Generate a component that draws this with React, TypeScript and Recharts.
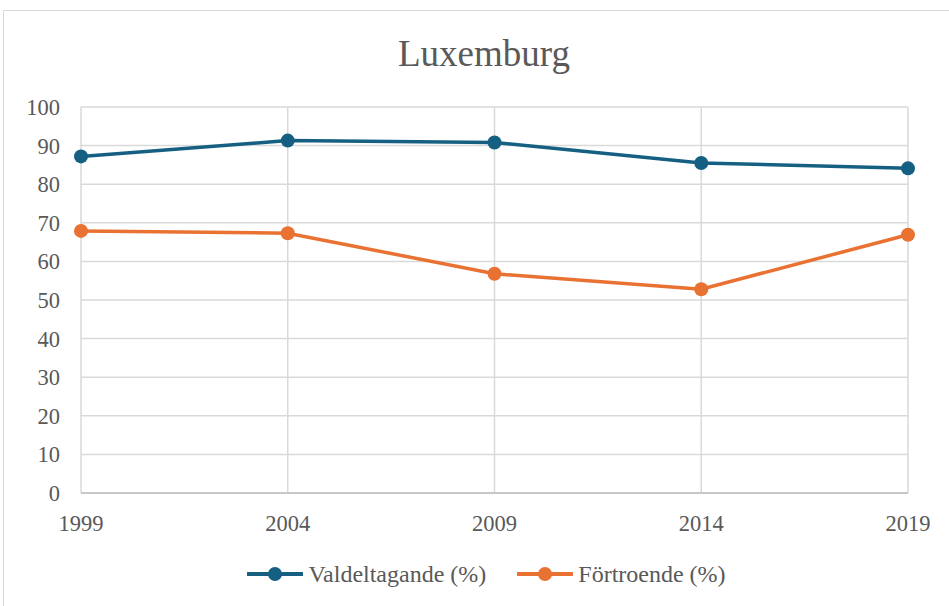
import React from 'react'
import {
  CartesianGrid,
  Legend,
  Line,
  LineChart,
  XAxis,
  YAxis
} from 'recharts'

const years = ['1999', '2004', '2009', '2014', '2019']
const valdeltagande = [87.2, 91.3, 90.8, 85.5, 84.1]
const fortroende = [67.9, 67.3, 56.8, 52.8, 66.9]
const yTicks = [0, 10, 20, 30, 40, 50, 60, 70, 80, 90, 100]

const BLUE = '#156082'
const ORANGE = '#E97132'
const TEXT = '#595959'
const FONT = 'Liberation Serif, Times New Roman, serif'

const data = years.map((year, i) => ({
  year,
  valdeltagande: valdeltagande[i],
  fortroende: fortroende[i]
}))

const legendItems = [
  { label: 'Valdeltagande (%)', color: BLUE },
  { label: 'Förtroende (%)', color: ORANGE }
]

const LegendContent = () => (
  <div
    style={{
      display: 'flex',
      justifyContent: 'center',
      alignItems: 'center',
      gap: 31,
      paddingLeft: 24,
      fontFamily: FONT,
      fontSize: 24,
      color: TEXT,
      lineHeight: '30px'
    }}
  >
    {legendItems.map((item) => (
      <div key={item.label} style={{ display: 'flex', alignItems: 'center' }}>
        <svg width={56} height={18} style={{ marginRight: 5 }}>
          <line x1={1} y1={9} x2={55} y2={9} stroke={item.color} strokeWidth={4} strokeLinecap="round" />
          <circle cx={28} cy={9} r={7} fill={item.color} />
        </svg>
        <span>{item.label}</span>
      </div>
    ))}
  </div>
)

export default function App() {
  return (
    <div
      style={{
        position: 'absolute',
        left: 0,
        top: 0,
        width: 949,
        height: 606,
        overflow: 'hidden',
        background: '#fff',
        fontFamily: FONT
      }}
    >
      <div
        style={{
          position: 'absolute',
          left: 3,
          top: 10,
          width: 1000,
          height: 700,
          border: '1.5px solid #D9D9D9'
        }}
      />
      <svg
        width={949}
        height={100}
        style={{ position: 'absolute', left: 0, top: 0 }}
      >
        <text x={484} y={66} textAnchor="middle" fontSize={37} fill={TEXT} fontFamily={FONT}>
          Luxemburg
        </text>
      </svg>
      <div style={{ position: 'absolute', left: 0, top: 0 }}>
        <LineChart
          width={949}
          height={606}
          data={data}
          margin={{ top: 107, right: 41, left: 0, bottom: 83 }}
        >
          <CartesianGrid stroke="#D9D9D9" strokeWidth={1.5} />
          <XAxis
            dataKey="year"
            interval={0}
            tickLine={false}
            tickSize={6}
            tickMargin={16}
            height={30}
            axisLine={{ stroke: '#BFBFBF', strokeWidth: 1.5 }}
            tick={{ fill: TEXT, fontSize: 22.5, fontFamily: FONT }}
          />
          <YAxis
            domain={[0, 100]}
            ticks={yTicks}
            interval={0}
            width={81}
            tickLine={false}
            axisLine={false}
            tickSize={6}
            tickMargin={15}
            tick={{ fill: TEXT, fontSize: 22.5, fontFamily: FONT }}
          />
          <Legend
            layout="horizontal"
            verticalAlign="middle"
            align="center"
            content={<LegendContent />}
            wrapperStyle={{ top: 559, left: 0, width: 949 }}
          />
          <Line
            dataKey="valdeltagande"
            name="Valdeltagande (%)"
            stroke={BLUE}
            strokeWidth={3.5}
            dot={{ r: 7, fill: BLUE, stroke: 'none' }}
            activeDot={false}
            isAnimationActive={false}
          />
          <Line
            dataKey="fortroende"
            name="Förtroende (%)"
            stroke={ORANGE}
            strokeWidth={3.5}
            dot={{ r: 7, fill: ORANGE, stroke: 'none' }}
            activeDot={false}
            isAnimationActive={false}
          />
        </LineChart>
      </div>
    </div>
  )
}
